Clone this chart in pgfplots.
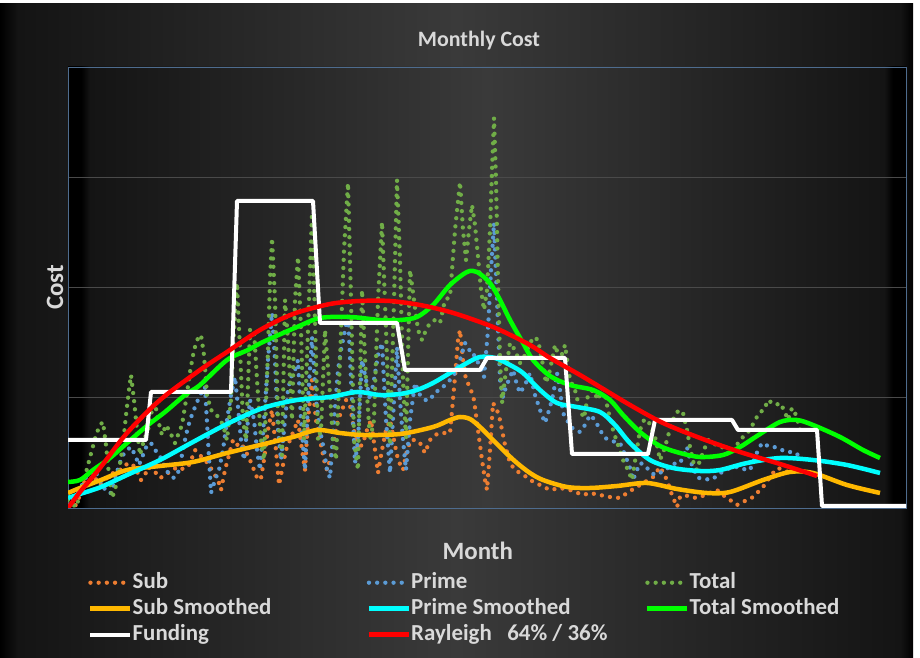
\documentclass[border=0pt]{standalone}
\usepackage{fontspec}
\setmainfont{Carlito}
\usepackage{pgfplots}
\pgfplotsset{compat=1.18}
\definecolor{txt}{RGB}{217,217,217}
\definecolor{framec}{RGB}{78,108,142}
\definecolor{gridc}{RGB}{74,74,74}
\definecolor{subc}{RGB}{237,125,49}
\definecolor{primec}{RGB}{91,155,213}
\definecolor{totalc}{RGB}{112,173,71}
\definecolor{subs}{RGB}{255,184,0}
\definecolor{primes}{RGB}{0,255,255}
\definecolor{totals}{RGB}{0,255,0}
\definecolor{rayc}{RGB}{255,0,0}
\definecolor{bgmid}{RGB}{58,58,58}
\definecolor{bgedge}{RGB}{20,20,20}
\pgfdeclarehorizontalshading{outerbg}{100bp}{color(0bp)=(black); color(25bp)=(black); color(26bp)=(bgedge); color(50bp)=(bgmid); color(74.3bp)=(bgedge); color(75bp)=(black); color(100bp)=(black)}
\pgfdeclarehorizontalshading{plotbg}{100bp}{color(0bp)=(black); color(25.8bp)=(black); color(26.3bp)=(bgedge); color(50bp)=(bgmid); color(73.7bp)=(bgedge); color(74.2bp)=(black); color(100bp)=(black)}
\begin{document}
\begin{tikzpicture}[x=1bp,y=1bp]
\fill[white] (0,0) rectangle (920,658);
\shade[shading=outerbg] (0,0) rectangle (913,654);
\node[text=txt, font=\bfseries\fontsize{22}{26}\selectfont] at (479,617) {Monthly Cost};
\begin{axis}[
  at={(68bp,150bp)}, anchor=south west, scale only axis,
  width=838bp, height=441bp,
  xmin=0, xmax=838, ymin=0, ymax=441,
  xtick=\empty, ytick={110.25,220.5,330.75}, yticklabels={},
  ymajorgrids, major grid style={gridc, line width=0.9bp},
  major tick length=0pt,
  axis line style={framec, line width=0.9bp},
  axis background/.style={shade, shading=plotbg},
  xlabel={Month}, ylabel={Cost},
  every axis x label/.style={at={(axis description cs:0.489,-0.098)}, anchor=center, text=txt, font=\bfseries\fontsize{25}{30}\selectfont},
  every axis y label/.style={at={(axis description cs:-0.0155,0.5)}, rotate=90, anchor=center, text=txt, font=\bfseries\fontsize{25}{30}\selectfont},
  legend columns=3,
  legend image code/.code={\draw[#1] (0bp,0bp) -- (40bp,0bp);},
  legend style={at={(axis description cs:0,0)}, anchor=north west, xshift=20bp, yshift=-64bp,
    draw=none, fill=none, inner sep=0pt, text=txt, font=\bfseries\fontsize{23}{27}\selectfont,
    nodes={inner sep=0pt, text height=16bp, text depth=5bp},
    row sep=5bp, /tikz/every odd column/.append style={column sep=0bp}},
  legend cell align=left,
  raw/.style={line width=4.3bp, line cap=round, dash pattern=on 0bp off 8.2bp},
  sm/.style={line width=4.5bp, smooth, line join=round},
]
% Sub (raw)
\addplot[raw, subc] coordinates {
(0,0)(4,2)(8,3)(12,13)(17,28)(22,38)(27,30)(32,23)(37,28)(42,33)(47,36)(52,38)(57,43)(62,45)(67,41)(73,28)(77,33)(80,41)(84,38)(88,35)(92,30)(96,32)(100,35)(104,38)(108,40)(112,38)(116,40)(120,41)(124,50)(127,58)(132,53)(136,48)(140,45)(145,36)(150,28)(153,18)(157,38)(161,53)(165,68)(169,63)(173,65)(177,58)(182,48)(186,38)(190,28)(193,30)(196,48)(200,78)(204,98)(208,58)(211,23)(214,38)(218,58)(222,68)(226,78)(230,88)(234,58)(237,38)(240,88)(244,128)(248,88)(252,68)(256,48)(259,38)(262,48)(266,68)(270,88)(274,98)(278,108)(282,103)(286,78)(290,58)(295,65)(299,78)(303,88)(307,58)(310,35)(314,58)(318,78)(322,88)(326,68)(330,48)(335,38)(339,58)(343,68)(348,68)(352,65)(357,55)(362,68)(367,73)(372,75)(377,75)(382,75)(387,131)(390,168)(392,178)(395,148)(398,128)(402,121)(406,108)(410,78)(414,48)(417,28)(419,18)(422,58)(425,105)(429,98)(432,88)(437,63)(442,45)(447,38)(452,35)(457,32)(462,28)(472,23)(482,18)(492,20)(502,18)(515,13)(522,15)(532,13)(542,11)(552,10)(559,15)(567,20)(577,26)(585,31)(592,41)(599,28)(604,13)(609,1)(612,11)(617,13)(622,11)(629,10)(637,13)(644,16)(649,18)(655,13)(662,8)(669,3)(674,6)(680,8)(685,11)(690,16)(695,21)(700,28)(705,35)(710,40)(715,38)(720,36)(725,38)(730,30)};
\addlegendentry{\makebox[234bp][l]{Sub}}
% Prime (raw)
\addplot[raw, primec] coordinates {
(0,3)(4,8)(8,13)(12,18)(16,28)(20,33)(24,30)(28,35)(32,28)(36,20)(40,15)(43,15)(47,28)(51,43)(55,53)(59,58)(63,61)(67,53)(71,43)(75,53)(79,63)(83,65)(87,58)(90,55)(94,48)(98,38)(102,33)(106,30)(110,35)(114,53)(118,73)(122,88)(127,101)(132,113)(137,121)(140,68)(143,15)(147,28)(151,38)(155,58)(159,88)(163,113)(167,131)(170,101)(173,68)(176,48)(179,78)(182,108)(186,88)(189,58)(192,38)(196,88)(200,148)(204,195)(207,148)(210,78)(213,48)(216,78)(220,118)(223,131)(227,138)(230,148)(233,88)(237,38)(240,108)(244,171)(248,108)(252,78)(256,58)(259,38)(262,30)(266,88)(270,138)(273,158)(277,178)(280,195)(283,128)(287,45)(290,68)(294,148)(298,128)(302,108)(306,128)(310,153)(314,165)(318,88)(322,35)(326,108)(329,161)(332,108)(335,68)(338,38)(342,88)(347,125)(352,113)(357,108)(362,108)(367,116)(372,118)(377,123)(382,128)(387,135)(392,148)(397,165)(401,158)(404,158)(408,148)(412,143)(416,131)(420,178)(423,238)(426,285)(429,208)(432,128)(435,111)(438,121)(442,131)(445,138)(449,123)(452,115)(457,123)(462,135)(467,113)(472,98)(477,85)(482,101)(485,113)(489,135)(492,118)(495,95)(499,88)(503,81)(507,78)(512,76)(517,83)(522,93)(527,88)(532,78)(537,70)(542,68)(547,66)(552,65)(557,53)(562,40)(565,28)(569,38)(572,45)(577,43)(582,36)(587,33)(592,35)(596,38)(600,40)(604,43)(608,45)(612,45)(616,53)(619,61)(622,48)(626,38)(630,30)(634,30)(638,29)(642,28)(646,30)(650,33)(654,36)(658,38)(662,40)(666,41)(670,41)(674,40)(678,38)(682,38)(686,48)(690,58)(694,65)(698,63)(702,61)(706,61)(710,60)(714,58)(718,56)(722,56)(726,56)(730,53)};
\addlegendentry{\makebox[234bp][l]{Prime}}
% Total (raw)
\addplot[raw, totalc] coordinates {
(0,8)(4,4)(8,1)(12,13)(16,28)(20,43)(24,58)(28,73)(32,83)(35,86)(38,63)(41,33)(44,10)(47,18)(51,38)(55,63)(58,93)(61,118)(63,133)(66,108)(69,78)(72,53)(76,68)(80,78)(84,98)(87,105)(90,88)(94,73)(98,83)(102,76)(107,65)(110,73)(114,83)(118,108)(122,136)(126,158)(130,170)(133,173)(136,153)(139,113)(143,98)(147,95)(151,90)(155,83)(159,68)(163,108)(166,178)(169,225)(172,158)(175,88)(178,68)(182,178)(186,178)(189,128)(193,68)(196,48)(200,158)(202,228)(204,270)(207,208)(210,88)(214,53)(217,208)(220,168)(224,88)(227,208)(230,251)(233,178)(236,68)(240,178)(244,295)(247,188)(250,68)(253,78)(257,178)(261,128)(265,68)(268,48)(272,148)(276,258)(280,325)(283,208)(286,68)(290,38)(294,218)(298,128)(302,68)(306,88)(310,208)(314,286)(318,178)(322,63)(326,208)(329,328)(332,248)(335,128)(338,68)(342,238)(346,208)(350,178)(354,168)(358,178)(362,185)(367,188)(372,185)(377,208)(382,211)(387,278)(392,326)(395,278)(398,248)(401,278)(404,303)(407,283)(410,251)(413,218)(416,198)(419,218)(422,278)(424,338)(426,390)(428,328)(430,228)(432,148)(434,105)(438,138)(442,165)(447,158)(452,145)(457,153)(462,165)(466,171)(470,168)(474,148)(478,125)(482,138)(487,163)(492,148)(497,163)(502,128)(507,118)(512,98)(516,90)(520,113)(525,118)(530,108)(535,123)(540,98)(545,78)(550,63)(555,48)(560,38)(564,28)(568,53)(572,78)(576,88)(580,88)(584,78)(588,68)(592,48)(596,58)(599,68)(603,83)(607,93)(611,98)(615,95)(619,78)(622,61)(626,43)(629,38)(632,48)(636,58)(640,68)(644,66)(648,63)(652,63)(657,58)(662,53)(667,60)(672,68)(677,73)(682,78)(687,88)(692,96)(696,98)(700,108)(704,105)(708,103)(712,105)(716,98)(720,88)(724,100)(728,93)(732,78)};
\addlegendentry{\makebox[160bp][l]{Total}}
% Sub Smoothed
\addplot[sm, subs] coordinates {
(0,15)(12,20)(33,28)(59,38)(92,42)(125,46)(159,55)(192,63)(225,71)(249,78)(272,75)(295,73)(332,74)(365,81)(382,88)(392,91)(402,89)(412,81)(422,71)(437,56)(449,45)(462,35)(475,28)(499,21)(522,20)(549,22)(579,25)(609,19)(639,15)(662,16)(695,28)(722,36)(745,35)(779,23)(812,15)};
\addlegendentry{\makebox[234bp][l]{Sub Smoothed}}
% Prime Smoothed
\addplot[sm, primes] coordinates {
(0,10)(12,14)(33,21)(59,33)(92,48)(125,66)(159,84)(195,100)(229,108)(262,111)(289,116)(312,113)(332,114)(349,118)(365,125)(382,135)(399,145)(412,151)(427,150)(442,143)(455,135)(472,118)(489,105)(509,101)(532,96)(547,83)(562,65)(582,48)(605,40)(632,37)(652,38)(679,45)(712,50)(745,48)(779,43)(812,35)};
\addlegendentry{\makebox[234bp][l]{Prime Smoothed}}
% Total Smoothed
\addplot[sm, totals] coordinates {
(0,26)(12,28)(25,38)(42,50)(59,65)(80,83)(97,96)(117,113)(132,123)(159,148)(180,158)(195,166)(229,181)(252,190)(282,191)(312,188)(332,188)(349,191)(365,203)(382,223)(399,236)(409,236)(422,225)(432,208)(442,188)(455,165)(465,148)(482,132)(502,123)(525,118)(542,108)(555,93)(572,76)(592,62)(612,55)(632,51)(655,53)(672,61)(689,72)(712,86)(729,88)(745,83)(772,71)(795,58)(812,50)};
\addlegendentry{\makebox[160bp][l]{Total Smoothed}}
% Funding
\addplot[line width=4bp, white, line join=round] coordinates {
(0,68)(78,68)(83,116)(163,116)(169,307)(245,307)(252,185)(329,185)(337,138)(412,138)(419,150)(497,150)(504,54)(580,54)(587,88)(664,88)(670,78)(749,78)(754,2)(838,2)};
\addlegendentry{\makebox[234bp][l]{Funding}}
% Rayleigh
\addplot[line width=4.5bp, rayc, smooth] coordinates {
(0,0)(12,16)(32,40)(59,75)(92,108)(132,138)(159,156)(192,178)(225,194)(262,204)(292,207)(322,207)(352,203)(382,196)(412,186)(432,178)(462,163)(482,150)(512,133)(532,121)(562,103)(595,85)(632,70)(672,56)(712,44)(749,32)};
\addlegendentry{\makebox[234bp][l]{Rayleigh\ \ \ 64\% / 36\%}}
\end{axis}
\end{tikzpicture}
\end{document}
